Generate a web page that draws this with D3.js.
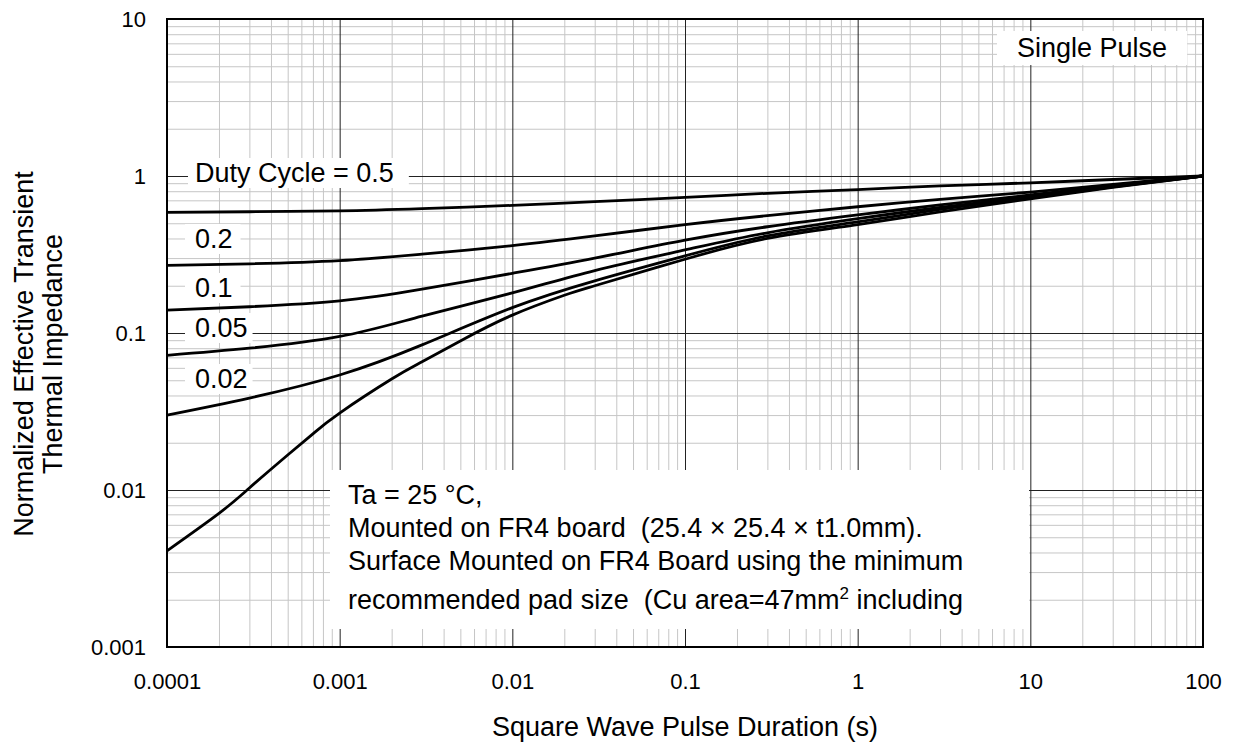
<!DOCTYPE html>
<html>
  <head>
    <meta charset="utf-8" />
    <title>Transient Thermal Impedance</title>
    <script src="https://d3js.org/d3.v7.min.js" charset="utf-8"></script>
    <style>
      html,
      body {
        margin: 0;
        padding: 0;
        background: #ffffff;
        font-family: "Liberation Sans", Arial, sans-serif;
      }
      text {
        white-space: pre;
      }
    </style>
  </head>
  <body>
    <svg id="chart"></svg>

    <script>
      // pulse durations (s) where curves were read
      const tPoints = [1e-4, 3e-4, 1e-3, 3e-3, 1e-2, 3e-2, 0.1, 0.3, 1, 3, 10, 30, 100];

      // duty cycle curves (normalized Zth)
      const duty05 = [0.587, 0.592, 0.6, 0.62, 0.65, 0.686, 0.73, 0.776, 0.82, 0.864, 0.905, 0.95, 1.0];
      const duty02 = [0.27, 0.276, 0.289, 0.318, 0.36, 0.415, 0.49, 0.559, 0.637, 0.71, 0.79, 0.885, 1.0];
      const duty01 = [0.14, 0.147, 0.16, 0.19, 0.24, 0.3, 0.39, 0.475, 0.565, 0.654, 0.757, 0.87, 1.0];
      const duty005 = [0.072, 0.08, 0.095, 0.128, 0.18, 0.25, 0.338, 0.435, 0.535, 0.63, 0.74, 0.86, 1.0];
      const duty002 = [0.03, 0.0385, 0.054, 0.084, 0.145, 0.215, 0.31, 0.415, 0.51, 0.612, 0.728, 0.852, 1.0];

      // single pulse, read at its own points (steeper at the start)
      const singleT = [1e-4, 2e-4, 3e-4, 5e-4, 7e-4, 1e-3, 2e-3, 3e-3, 5e-3, 1e-2, 2e-2, 3e-2, 0.1, 0.3, 1, 3, 10, 30, 100];
      const singleZ = [0.0041, 0.0071, 0.0103, 0.0167, 0.0228, 0.0309, 0.0509, 0.0655, 0.089, 0.13, 0.174, 0.2, 0.295, 0.4, 0.49, 0.59, 0.715, 0.845, 1.0];

      const xTicks = [1e-4, 1e-3, 1e-2, 0.1, 1, 10, 100];
      const xTickLabels = ["0.0001", "0.001", "0.01", "0.1", "1", "10", "100"];
      const yTicks = [0.001, 0.01, 0.1, 1, 10];
      const yTickLabels = ["0.001", "0.01", "0.1", "1", "10"];

      const width = 1233;
      const height = 744;
      const lmargin = 167;
      const tmargin = 19;
      const graphWidth = 1036;
      const graphHeight = 628;
      const font = "Liberation Sans, Arial, sans-serif";

      const svg = d3
        .select("#chart")
        .attr("width", width)
        .attr("height", height)
        .attr("font-family", font)
        .style("display", "block");

      const plot = svg
        .append("g")
        .attr("transform", `translate(${lmargin},${tmargin})`);

      const x = d3.scaleLog().domain([1e-4, 100]).range([0, graphWidth]);
      const y = d3.scaleLog().domain([0.001, 10]).range([graphHeight, 0]);

      // minor grid values
      const minorX = [];
      for (let e = -4; e < 2; e++)
        for (let m = 2; m <= 9; m++) minorX.push(m * Math.pow(10, e));
      const minorY = [];
      for (let e = -3; e < 1; e++)
        for (let m = 2; m <= 9; m++) minorY.push(m * Math.pow(10, e));

      function grid(axis, vals, size, colour, shift) {
        const g = plot
          .append("g")
          .call(axis.tickValues(vals).tickSize(-size).tickFormat(""));
        if (shift) g.attr("transform", `translate(0,${graphHeight})`);
        g.select(".domain").remove();
        g.selectAll("line").attr("stroke", colour).attr("stroke-width", 1);
      }

      // minor grid, then major grid
      grid(d3.axisBottom(x), minorX, graphHeight, "#c6c6c6", true);
      grid(d3.axisLeft(y), minorY, graphWidth, "#c6c6c6", false);
      grid(d3.axisBottom(x), xTicks, graphHeight, "#222", true);
      grid(d3.axisLeft(y), yTicks, graphWidth, "#222", false);

      // tick labels
      const xAxis = plot
        .append("g")
        .attr("transform", `translate(0,${graphHeight})`)
        .call(
          d3.axisBottom(x).tickValues(xTicks).tickSize(0).tickPadding(26)
            .tickFormat((d, i) => xTickLabels[i])
        );
      xAxis.select(".domain").remove();
      xAxis.selectAll("text").attr("font-size", 22).attr("fill", "#000")
        .attr("font-family", font);

      const yAxis = plot
        .append("g")
        .call(
          d3.axisLeft(y).tickValues(yTicks).tickSize(0).tickPadding(21)
            .tickFormat((d, i) => yTickLabels[i])
        );
      yAxis.select(".domain").remove();
      yAxis.selectAll("text").attr("font-size", 22).attr("fill", "#000")
        .attr("font-family", font);

      // curves
      const line = d3
        .line()
        .x((d) => x(d[0]))
        .y((d) => y(d[1]))
        .curve(d3.curveNatural);

      const series = [duty05, duty02, duty01, duty005, duty002].map((vals) =>
        tPoints.map((t, i) => [t, vals[i]])
      );
      series.push(singleT.map((t, i) => [t, singleZ[i]]));

      // label with white background
      function label(g, txt, tx, ty, size, padL, padR, padT, padB) {
        const grp = g.append("g");
        const rect = grp.append("rect").attr("fill", "#fff");
        const t = grp
          .append("text")
          .attr("x", tx)
          .attr("y", ty)
          .attr("font-size", size)
          .attr("fill", "#000")
          .text(txt);
        const b = t.node().getBBox();
        rect
          .attr("x", b.x - padL)
          .attr("y", b.y - padT)
          .attr("width", b.width + padL + padR)
          .attr("height", b.height + padT + padB);
        return grp;
      }

      const labels = svg.append("g");
      label(labels, "Duty Cycle = 0.5", 195, 182, 27, 7, 15, 0, 0);
      label(labels, "0.2", 195, 248, 27, 10, 8, 0, 0);
      label(labels, "0.1", 195, 297, 27, 10, 8, 0, 0);
      label(labels, "0.05", 195, 337, 27, 10, 5, 0, 0);
      label(labels, "0.02", 195, 388, 27, 10, 5, 0, 0);
      label(labels, "Single Pulse", 1017, 57, 27, 20, 20, 2, 2);

      plot
        .selectAll(".curve")
        .data(series)
        .enter()
        .append("path")
        .attr("class", "curve")
        .attr("d", line)
        .attr("fill", "none")
        .attr("stroke", "#000")
        .attr("stroke-width", 2.8);

      // conditions box
      const note = svg.append("g");
      note
        .append("rect")
        .attr("x", 330)
        .attr("y", 470)
        .attr("width", 699)
        .attr("height", 159)
        .attr("fill", "#fff");
      const noteLines = [
        "Ta = 25 \u00b0C,",
        "Mounted on FR4 board  (25.4 \u00d7 25.4 \u00d7 t1.0mm).",
        "Surface Mounted on FR4 Board using the minimum",
      ];
      const noteBase = [504, 537, 570];
      noteLines.forEach((s, i) => {
        note
          .append("text")
          .attr("x", 348)
          .attr("y", noteBase[i])
          .attr("font-size", 27)
          .attr("fill", "#000")
          .text(s);
      });
      const last = note
        .append("text")
        .attr("x", 348)
        .attr("y", 609)
        .attr("font-size", 27)
        .attr("fill", "#000");
      last.append("tspan").text("recommended pad size  (Cu area=47mm");
      last.append("tspan").attr("dy", -10).attr("font-size", 17).text("2");
      last.append("tspan").attr("dy", 10).text(" including");

      // frame
      plot
        .append("rect")
        .attr("width", graphWidth)
        .attr("height", graphHeight)
        .attr("fill", "none")
        .attr("stroke", "#000")
        .attr("stroke-width", 2);

      // axis titles
      svg
        .append("text")
        .attr("x", lmargin + graphWidth / 2)
        .attr("y", 736)
        .attr("text-anchor", "middle")
        .attr("font-size", 27)
        .text("Square Wave Pulse Duration (s)");

      const yt = svg
        .append("text")
        .attr("transform", "translate(0,354) rotate(-90)")
        .attr("text-anchor", "middle")
        .attr("font-size", 27);
      yt.append("tspan").attr("x", 0).attr("y", 33).text("Normalized Effective Transient");
      yt.append("tspan").attr("x", 0).attr("y", 62).text("Thermal Impedance");
    </script>
  </body>
</html>
